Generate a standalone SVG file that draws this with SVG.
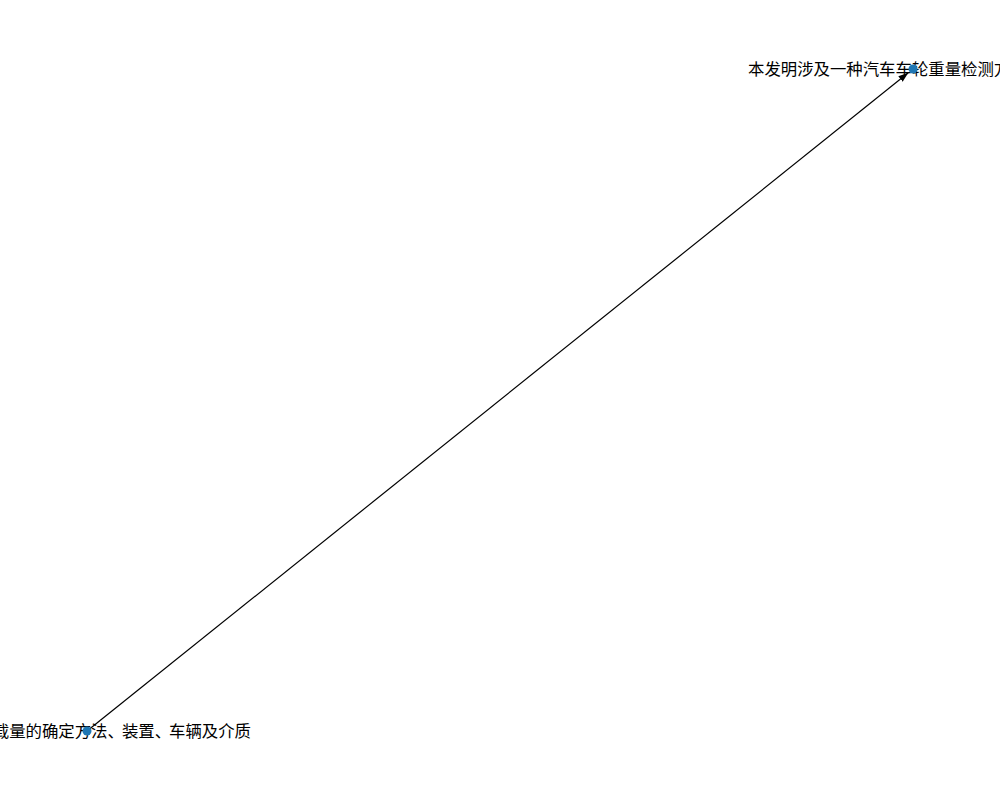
<svg xmlns="http://www.w3.org/2000/svg" width="1000" height="800" viewBox="0 0 1000 800">
  <style>
    .node { fill: #1f77b4; }
    .edge { stroke: #000; stroke-width: 1.2; fill: none; }
    .label { font-family: "Noto Sans CJK SC", "DejaVu Sans", sans-serif; font-size: 16.4px; fill: #000; dominant-baseline: central; }
    .narrow { letter-spacing: -2px; }
  </style>
  <defs>
    <marker id="arrow" markerUnits="userSpaceOnUse" markerWidth="11" markerHeight="8" refX="10" refY="3.5" orient="auto">
      <path d="M0,0 L10,3.5 L0,7 z" fill="#000"/>
    </marker>
  </defs>
  <rect width="1000" height="800" fill="#fff"/>
  <g id="connectors">
    <line class="edge" x1="87" y1="731" x2="908.3" y2="72.8" marker-end="url(#arrow)"/>
  </g>
  <g id="node-1">
    <text class="label" x="748" y="68">本发明涉及一种汽车车轮重量检测方法</text>
    <circle class="node" cx="913" cy="69" r="4.5"/>
  </g>
  <g id="node-2">
    <text class="label" x="251" y="729.5" text-anchor="end">一种车辆装载量的确定方法<tspan class="narrow">、</tspan>装置<tspan class="narrow">、</tspan>车辆及介质</text>
    <circle class="node" cx="87" cy="731" r="4.5"/>
  </g>
</svg>
